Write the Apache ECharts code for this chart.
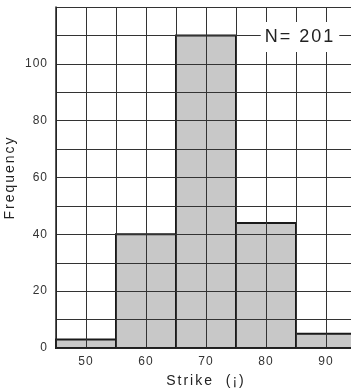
<!DOCTYPE html>
<html>
<head>
<meta charset="utf-8">
<script src="https://cdn.jsdelivr.net/npm/echarts@6/dist/echarts.min.js"></script>
<style>
html,body{margin:0;padding:0;background:#fff;}
#chart{width:351px;height:391px;}
</style>
</head>
<body>
<div id="chart"></div>
<script>
// Data
const binCenters = [50, 60, 70, 80, 90];
const frequencies = [3, 40, 110, 44, 5];
const binWidth = 10;
const xTickLabels = [50, 60, 70, 80, 90];
const yTickLabels = [0, 20, 40, 60, 80, 100];
const annotationText = 'N= 201';
const xTitle = 'Strike  (¡)';
const yTitle = 'Frequency';

// slight letter spacing for the scanned-figure look
(function () {
  const proto = CanvasRenderingContext2D.prototype;
  const orig = proto.fillText;
  proto.fillText = function (t, x, y, m) {
    const has = 'letterSpacing' in this;
    if (has) {
      const mm = /(\d+(?:\.\d+)?)px/.exec(this.font);
      const fs = mm ? parseFloat(mm[1]) : 12;
      this.letterSpacing = fs >= 14 ? '2px' : '1px';
    }
    const r = m === undefined ? orig.call(this, t, x, y) : orig.call(this, t, x, y, m);
    if (has) this.letterSpacing = '0px';
    return r;
  };
})();

const chart = echarts.init(document.getElementById('chart'), null, {renderer: 'canvas'});
const font = '"Liberation Sans", Arial, sans-serif';
const gridColor = '#333';

const option = {
  animation: false,
  backgroundColor: '#fff',
  grid: {left: 56, top: 7, bottom: 43, right: -5, outerBoundsMode: 'none'},
  xAxis: {
    type: 'value', min: 45, max: 95, interval: 5, z: 10,
    name: xTitle, nameLocation: 'middle', nameGap: 26,
    nameTextStyle: {fontFamily: font, fontSize: 14, color: '#222'},
    axisLine: {show: true, onZero: false, lineStyle: {color: '#222', width: 1.5}},
    axisTick: {show: false},
    axisLabel: {
      margin: 8, fontFamily: font, fontSize: 12, color: '#333',
      formatter: v => xTickLabels.indexOf(v) >= 0 ? String(v) : ''
    },
    splitLine: {show: true, lineStyle: {color: gridColor, width: 1}}
  },
  yAxis: {
    type: 'value', min: 0, max: 120, interval: 10, z: 10,
    name: yTitle, nameLocation: 'middle', nameGap: 28,
    nameTextStyle: {fontFamily: font, fontSize: 14, color: '#222'},
    axisLine: {show: true, lineStyle: {color: '#222', width: 1.5}},
    axisTick: {show: false},
    axisLabel: {
      margin: 8, fontFamily: font, fontSize: 12, color: '#333',
      formatter: v => yTickLabels.indexOf(v) >= 0 ? String(v) : ''
    },
    splitLine: {show: true, lineStyle: {color: gridColor, width: 1}}
  },
  series: [{
    type: 'custom',
    z: 2,
    data: binCenters.map((c, i) => [c, frequencies[i]]),
    renderItem: function (params, api) {
      const c = api.value(0), f = api.value(1);
      const p0 = api.coord([c - binWidth / 2, f]);
      const p1 = api.coord([c + binWidth / 2, 0]);
      return {
        type: 'rect',
        shape: {x: p0[0], y: p0[1], width: p1[0] - p0[0], height: p1[1] - p0[1]},
        style: {fill: '#c8c8c8', stroke: '#1a1a1a', lineWidth: 2}
      };
    }
  }],
  graphic: [{
    type: 'text', z: 100,
    x: 300, y: 37,
    style: {
      text: annotationText, fontFamily: font, fontSize: 18, fill: '#222',
      align: 'center', verticalAlign: 'middle',
      backgroundColor: '#fff', padding: [6, 10, 6, 10]
    }
  }]
};
chart.setOption(option);
</script>
</body>
</html>
